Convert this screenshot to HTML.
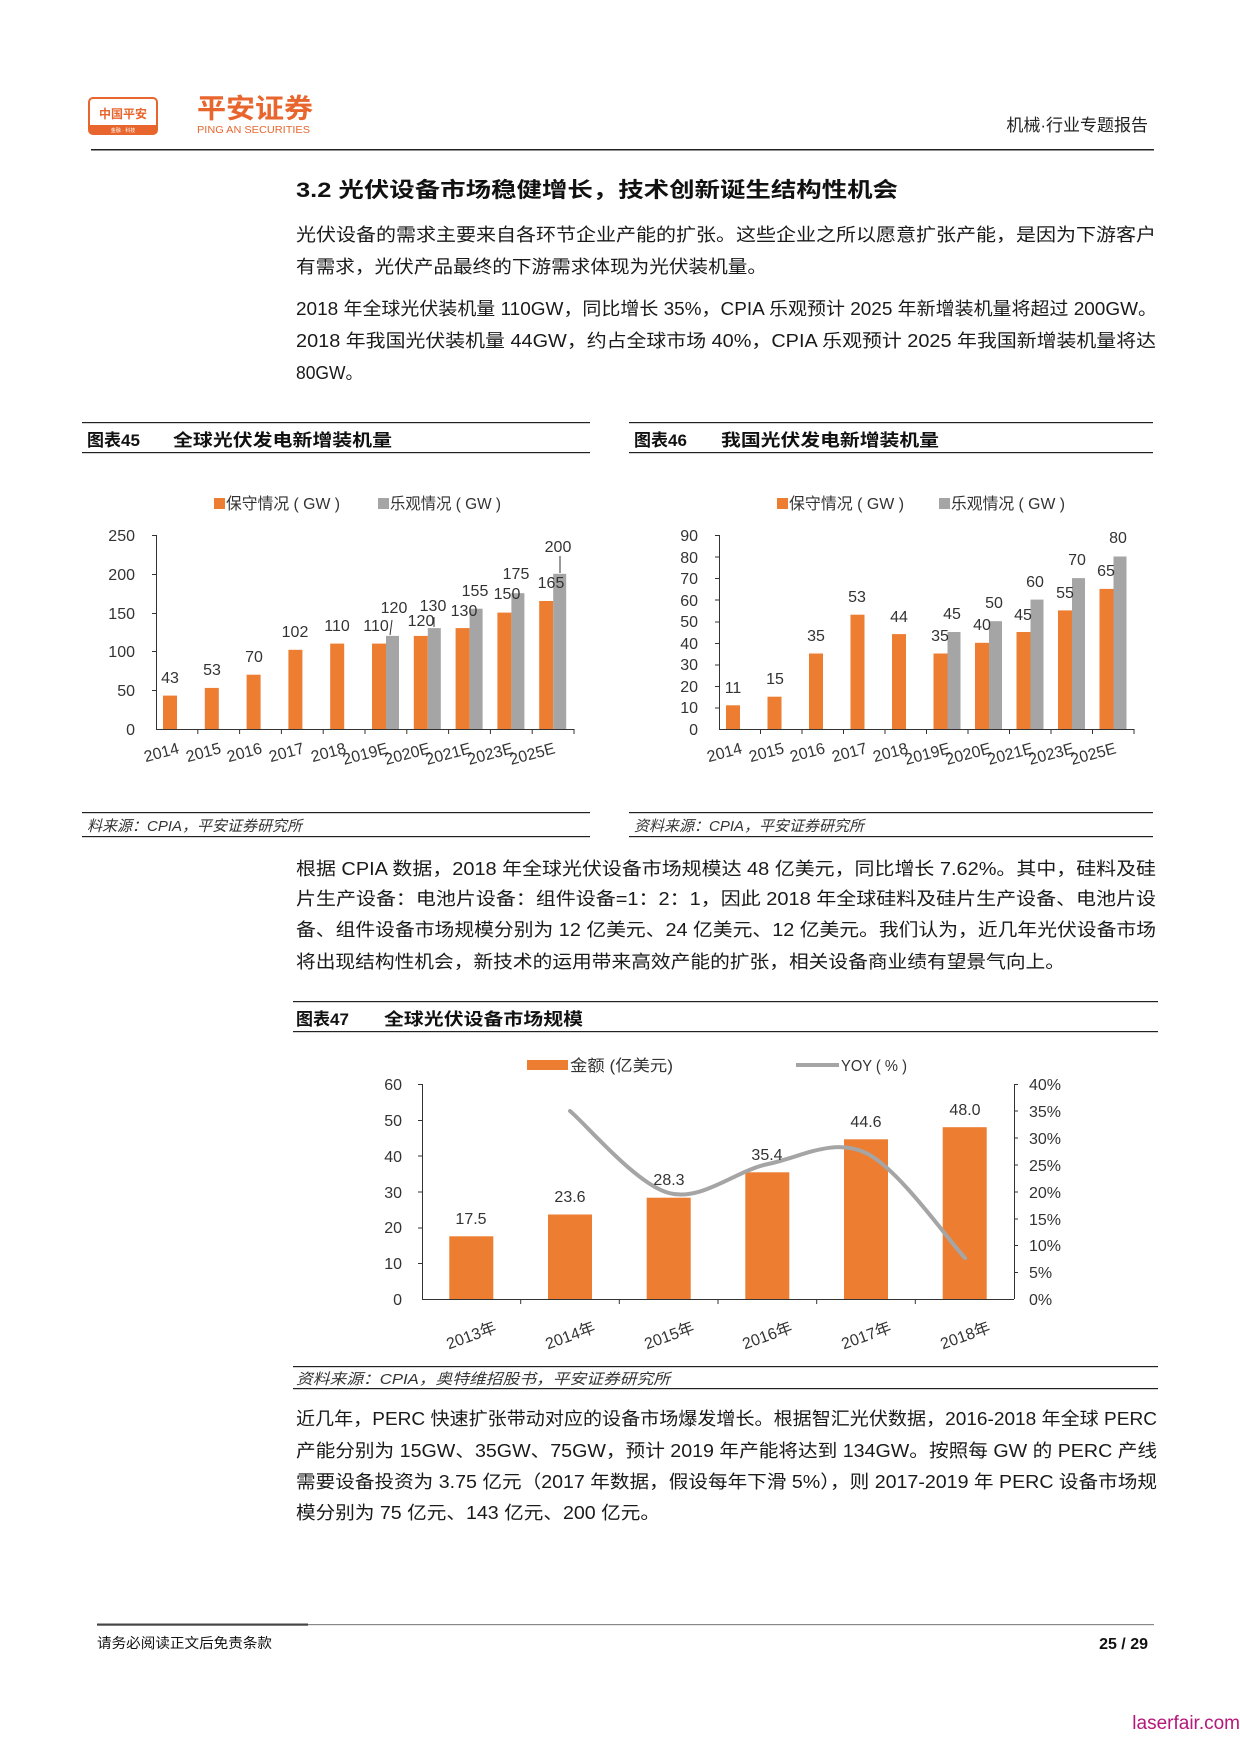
<!DOCTYPE html>
<html><head><meta charset="utf-8"><style>
html,body{margin:0;padding:0;background:#fff;}
svg{display:block;}
text{font-family:"Liberation Sans","Noto Sans CJK SC",sans-serif;}
.b{font-size:18px;fill:#1a1a1a;}
.t{font-size:16px;fill:#333;}
.ct{font-size:17px;font-weight:bold;fill:#111;}
.src{font-size:15px;font-style:italic;fill:#333;}
</style></head><body>
<svg width="1240" height="1754" viewBox="0 0 1240 1754" xmlns="http://www.w3.org/2000/svg">
<!-- header -->
<rect x="89" y="98" width="68" height="36" rx="4" fill="#fff" stroke="#e8662e" stroke-width="2"/>
<rect x="90" y="125" width="66" height="8" fill="#e8662e"/>
<text x="123" y="118" font-size="12" font-weight="bold" fill="#e8662e" text-anchor="middle">中国平安</text>
<text x="123" y="132" font-size="5" fill="#fff" text-anchor="middle">金融 · 科技</text>
<text x="197" y="118" font-size="27" font-weight="bold" fill="#e8662e" textLength="116" lengthAdjust="spacingAndGlyphs">平安证券</text>
<text x="197" y="133" font-size="10" fill="#e8662e" textLength="113" lengthAdjust="spacingAndGlyphs">PING AN SECURITIES</text>
<text x="1148" y="131" font-size="17" fill="#222" text-anchor="end">机械·行业专题报告</text>
<rect x="91" y="149" width="1063" height="1.5" fill="#222"/>

<text x="296" y="197" font-size="21" font-weight="bold" fill="#111" textLength="602" lengthAdjust="spacingAndGlyphs">3.2  光伏设备市场稳健增长，技术创新诞生结构性机会</text>
<text class="b" x="296" y="241" textLength="860" lengthAdjust="spacingAndGlyphs">光伏设备的需求主要来自各环节企业产能的扩张。这些企业之所以愿意扩张产能，是因为下游客户</text>
<text class="b" x="296" y="273" textLength="471" lengthAdjust="spacingAndGlyphs">有需求，光伏产品最终的下游需求体现为光伏装机量。</text>
<text class="b" x="296" y="315" textLength="861" lengthAdjust="spacingAndGlyphs">2018 年全球光伏装机量 110GW，同比增长 35%，CPIA 乐观预计 2025 年新增装机量将超过 200GW。</text>
<text class="b" x="296" y="347" textLength="860" lengthAdjust="spacingAndGlyphs">2018 年我国光伏装机量 44GW，约占全球市场 40%，CPIA 乐观预计 2025 年我国新增装机量将达</text>
<text class="b" x="296" y="379" textLength="67" lengthAdjust="spacingAndGlyphs">80GW。</text>

<!-- chart 45 -->
<rect x="82" y="422" width="508" height="1.2" fill="#222"/>
<rect x="82" y="452" width="508" height="1.2" fill="#222"/>
<text class="ct" x="87" y="446">图表45</text>
<text class="ct" x="173" y="446" textLength="219" lengthAdjust="spacingAndGlyphs">全球光伏发电新增装机量</text>
<rect x="214" y="498" width="11" height="11" fill="#ed7d31"/>
<text class="t" x="226" y="509" textLength="114" lengthAdjust="spacingAndGlyphs">保守情况 ( GW )</text>
<rect x="378" y="498" width="11" height="11" fill="#a5a5a5"/>
<text class="t" x="390" y="509" textLength="111" lengthAdjust="spacingAndGlyphs">乐观情况 ( GW )</text>
<g text-anchor="end">
<text x="135" y="541" class="t">250</text><text x="135" y="580" class="t">200</text><text x="135" y="619" class="t">150</text><text x="135" y="657" class="t">100</text><text x="135" y="696" class="t">50</text><text x="135" y="735" class="t">0</text>
</g>
<g stroke="#333" stroke-width="1">
<line x1="156.5" y1="535" x2="156.5" y2="729"/><line x1="156" y1="729.5" x2="574" y2="729.5"/>
<line x1="152" y1="535.5" x2="156" y2="535.5"/><line x1="152" y1="574.5" x2="156" y2="574.5"/><line x1="152" y1="613.5" x2="156" y2="613.5"/><line x1="152" y1="651.5" x2="156" y2="651.5"/><line x1="152" y1="690.5" x2="156" y2="690.5"/>
<line x1="197.8" y1="729" x2="197.8" y2="734"/><line x1="239.6" y1="729" x2="239.6" y2="734"/><line x1="281.4" y1="729" x2="281.4" y2="734"/><line x1="323.2" y1="729" x2="323.2" y2="734"/><line x1="365" y1="729" x2="365" y2="734"/><line x1="406.8" y1="729" x2="406.8" y2="734"/><line x1="448.6" y1="729" x2="448.6" y2="734"/><line x1="490.4" y1="729" x2="490.4" y2="734"/><line x1="532.2" y1="729" x2="532.2" y2="734"/><line x1="574" y1="729" x2="574" y2="734"/>
</g>
<g fill="#ed7d31">
<rect x="163" y="695.6" width="14" height="33.4"/><rect x="204.8" y="687.9" width="14" height="41.1"/><rect x="246.6" y="674.7" width="14" height="54.3"/><rect x="288.4" y="649.8" width="14" height="79.2"/><rect x="330.2" y="643.6" width="14" height="85.4"/><rect x="372" y="643.6" width="14" height="85.4"/><rect x="413.8" y="635.9" width="14" height="93.1"/><rect x="455.6" y="628.1" width="14" height="100.9"/><rect x="497.4" y="612.6" width="14" height="116.4"/><rect x="539.2" y="601" width="14" height="128"/>
</g>
<g fill="#a5a5a5">
<rect x="386" y="635.9" width="13" height="93.1"/><rect x="427.8" y="628.1" width="13" height="100.9"/><rect x="469.6" y="608.7" width="13" height="120.3"/><rect x="511.4" y="593.2" width="13" height="135.8"/><rect x="553.2" y="573.8" width="13" height="155.2"/>
</g>
<g stroke="#333" stroke-width="1"><line x1="392" y1="620" x2="390" y2="635"/><line x1="434" y1="617" x2="434" y2="627"/><line x1="560" y1="556" x2="560" y2="573"/></g>
<g text-anchor="middle">
<text class="t" x="170" y="683">43</text><text class="t" x="212" y="675">53</text><text class="t" x="254" y="662">70</text><text class="t" x="295" y="637">102</text><text class="t" x="337" y="631">110</text><text class="t" x="376" y="631">110</text><text class="t" x="394" y="613">120</text><text class="t" x="421" y="626">120</text><text class="t" x="433" y="611">130</text><text class="t" x="464" y="616">130</text><text class="t" x="475" y="596">155</text><text class="t" x="507" y="599">150</text><text class="t" x="516" y="579">175</text><text class="t" x="551" y="588">165</text><text class="t" x="558" y="552">200</text>
</g>
<g text-anchor="end">
<text class="t" x="180" y="753" transform="rotate(-15 180 753)">2014</text><text class="t" x="222" y="753" transform="rotate(-15 222 753)">2015</text><text class="t" x="263" y="753" transform="rotate(-15 263 753)">2016</text><text class="t" x="305" y="753" transform="rotate(-15 305 753)">2017</text><text class="t" x="347" y="753" transform="rotate(-15 347 753)">2018</text><text class="t" x="389" y="753" transform="rotate(-15 389 753)">2019E</text><text class="t" x="431" y="753" transform="rotate(-15 431 753)">2020E</text><text class="t" x="472" y="753" transform="rotate(-15 472 753)">2021E</text><text class="t" x="514" y="753" transform="rotate(-15 514 753)">2023E</text><text class="t" x="556" y="753" transform="rotate(-15 556 753)">2025E</text>
</g>
<rect x="82" y="812" width="508" height="1.2" fill="#222"/>
<rect x="82" y="836" width="508" height="1.2" fill="#222"/>
<text class="src" x="87" y="831">料来源：CPIA，平安证券研究所</text>

<!-- chart 46 -->
<rect x="629" y="422" width="524" height="1.2" fill="#222"/>
<rect x="629" y="452" width="524" height="1.2" fill="#222"/>
<text class="ct" x="634" y="446">图表46</text>
<text class="ct" x="721" y="446" textLength="218" lengthAdjust="spacingAndGlyphs">我国光伏发电新增装机量</text>
<rect x="777" y="498" width="11" height="11" fill="#ed7d31"/>
<text class="t" x="789" y="509" textLength="115" lengthAdjust="spacingAndGlyphs">保守情况 ( GW )</text>
<rect x="939" y="498" width="11" height="11" fill="#a5a5a5"/>
<text class="t" x="951" y="509" textLength="114" lengthAdjust="spacingAndGlyphs">乐观情况 ( GW )</text>
<g text-anchor="end">
<text class="t" x="698" y="541">90</text><text class="t" x="698" y="563">80</text><text class="t" x="698" y="584">70</text><text class="t" x="698" y="606">60</text><text class="t" x="698" y="627">50</text><text class="t" x="698" y="649">40</text><text class="t" x="698" y="670">30</text><text class="t" x="698" y="692">20</text><text class="t" x="698" y="713">10</text><text class="t" x="698" y="735">0</text>
</g>
<g stroke="#333" stroke-width="1">
<line x1="719.5" y1="535" x2="719.5" y2="729"/><line x1="719" y1="729.5" x2="1134" y2="729.5"/>
<line x1="715" y1="535.5" x2="719" y2="535.5"/><line x1="715" y1="557" x2="719" y2="557"/><line x1="715" y1="578.5" x2="719" y2="578.5"/><line x1="715" y1="600" x2="719" y2="600"/><line x1="715" y1="622" x2="719" y2="622"/><line x1="715" y1="643.5" x2="719" y2="643.5"/><line x1="715" y1="665" x2="719" y2="665"/><line x1="715" y1="686.5" x2="719" y2="686.5"/><line x1="715" y1="708" x2="719" y2="708"/>
<line x1="760.5" y1="729" x2="760.5" y2="734"/><line x1="802" y1="729" x2="802" y2="734"/><line x1="843.5" y1="729" x2="843.5" y2="734"/><line x1="885" y1="729" x2="885" y2="734"/><line x1="926.5" y1="729" x2="926.5" y2="734"/><line x1="968" y1="729" x2="968" y2="734"/><line x1="1009.5" y1="729" x2="1009.5" y2="734"/><line x1="1051" y1="729" x2="1051" y2="734"/><line x1="1092.5" y1="729" x2="1092.5" y2="734"/><line x1="1134" y1="729" x2="1134" y2="734"/>
</g>
<g fill="#ed7d31">
<rect x="726" y="705.3" width="14" height="23.7"/><rect x="767.5" y="696.7" width="14" height="32.3"/><rect x="809" y="653.5" width="14" height="75.5"/><rect x="850.5" y="614.7" width="14" height="114.3"/><rect x="892" y="634.1" width="14" height="94.9"/><rect x="933.5" y="653.5" width="14" height="75.5"/><rect x="975" y="642.8" width="14" height="86.2"/><rect x="1016.5" y="632" width="14" height="97"/><rect x="1058" y="610.4" width="14" height="118.6"/><rect x="1099.5" y="588.9" width="14" height="140.1"/>
</g>
<g fill="#a5a5a5">
<rect x="947.5" y="632" width="13" height="97"/><rect x="989" y="621.2" width="13" height="107.8"/><rect x="1030.5" y="599.6" width="13" height="129.4"/><rect x="1072" y="578.1" width="13" height="150.9"/><rect x="1113.5" y="556.5" width="13" height="172.5"/>
</g>
<g text-anchor="middle">
<text class="t" x="733" y="693">11</text><text class="t" x="775" y="684">15</text><text class="t" x="816" y="641">35</text><text class="t" x="857" y="602">53</text><text class="t" x="899" y="622">44</text><text class="t" x="940" y="641">35</text><text class="t" x="952" y="619">45</text><text class="t" x="982" y="630">40</text><text class="t" x="994" y="608">50</text><text class="t" x="1023" y="620">45</text><text class="t" x="1035" y="587">60</text><text class="t" x="1065" y="598">55</text><text class="t" x="1077" y="565">70</text><text class="t" x="1106" y="576">65</text><text class="t" x="1118" y="543">80</text>
</g>
<g text-anchor="end">
<text class="t" x="743" y="753" transform="rotate(-15 743 753)">2014</text><text class="t" x="785" y="753" transform="rotate(-15 785 753)">2015</text><text class="t" x="826" y="753" transform="rotate(-15 826 753)">2016</text><text class="t" x="868" y="753" transform="rotate(-15 868 753)">2017</text><text class="t" x="909" y="753" transform="rotate(-15 909 753)">2018</text><text class="t" x="951" y="753" transform="rotate(-15 951 753)">2019E</text><text class="t" x="992" y="753" transform="rotate(-15 992 753)">2020E</text><text class="t" x="1034" y="753" transform="rotate(-15 1034 753)">2021E</text><text class="t" x="1075" y="753" transform="rotate(-15 1075 753)">2023E</text><text class="t" x="1117" y="753" transform="rotate(-15 1117 753)">2025E</text>
</g>
<rect x="629" y="812" width="524" height="1.2" fill="#222"/>
<rect x="629" y="836" width="524" height="1.2" fill="#222"/>
<text class="src" x="634" y="831">资料来源：CPIA，平安证券研究所</text>

<!-- para 3 -->
<text class="b" x="296" y="875" textLength="860" lengthAdjust="spacingAndGlyphs">根据 CPIA 数据，2018 年全球光伏设备市场规模达 48 亿美元，同比增长 7.62%。其中，硅料及硅</text>
<text class="b" x="296" y="905" textLength="860" lengthAdjust="spacingAndGlyphs">片生产设备：电池片设备：组件设备=1：2：1，因此 2018 年全球硅料及硅片生产设备、电池片设</text>
<text class="b" x="296" y="936" textLength="860" lengthAdjust="spacingAndGlyphs">备、组件设备市场规模分别为 12 亿美元、24 亿美元、12 亿美元。我们认为，近几年光伏设备市场</text>
<text class="b" x="296" y="968" textLength="769" lengthAdjust="spacingAndGlyphs">将出现结构性机会，新技术的运用带来高效产能的扩张，相关设备商业绩有望景气向上。</text>

<!-- chart 47 -->
<rect x="293" y="1001" width="865" height="1.2" fill="#222"/>
<rect x="293" y="1031" width="865" height="1.2" fill="#222"/>
<text class="ct" x="296" y="1025">图表47</text>
<text class="ct" x="384" y="1025" textLength="199" lengthAdjust="spacingAndGlyphs">全球光伏设备市场规模</text>
<rect x="527" y="1060" width="41" height="10" fill="#ed7d31"/>
<text class="t" x="570" y="1071" textLength="103" lengthAdjust="spacingAndGlyphs">金额 (亿美元)</text>
<line x1="796" y1="1065" x2="839" y2="1065" stroke="#a5a5a5" stroke-width="4"/>
<text class="t" x="841" y="1071" textLength="66" lengthAdjust="spacingAndGlyphs">YOY ( % )</text>
<g text-anchor="end">
<text class="t" x="402" y="1090">60</text><text class="t" x="402" y="1126">50</text><text class="t" x="402" y="1162">40</text><text class="t" x="402" y="1198">30</text><text class="t" x="402" y="1233">20</text><text class="t" x="402" y="1269">10</text><text class="t" x="402" y="1305">0</text>
</g>
<g>
<text class="t" x="1029" y="1090">40%</text><text class="t" x="1029" y="1117">35%</text><text class="t" x="1029" y="1144">30%</text><text class="t" x="1029" y="1171">25%</text><text class="t" x="1029" y="1198">20%</text><text class="t" x="1029" y="1225">15%</text><text class="t" x="1029" y="1251">10%</text><text class="t" x="1029" y="1278">5%</text><text class="t" x="1029" y="1305">0%</text>
</g>
<g stroke="#333" stroke-width="1">
<line x1="422.5" y1="1084" x2="422.5" y2="1299"/><line x1="1014.5" y1="1084" x2="1014.5" y2="1299"/><line x1="422" y1="1299.5" x2="1014" y2="1299.5"/>
<line x1="418" y1="1084.5" x2="422" y2="1084.5"/><line x1="418" y1="1120.5" x2="422" y2="1120.5"/><line x1="418" y1="1156" x2="422" y2="1156"/><line x1="418" y1="1192" x2="422" y2="1192"/><line x1="418" y1="1228" x2="422" y2="1228"/><line x1="418" y1="1263.5" x2="422" y2="1263.5"/>
<line x1="1014" y1="1084.5" x2="1018" y2="1084.5"/><line x1="1014" y1="1111" x2="1018" y2="1111"/><line x1="1014" y1="1138" x2="1018" y2="1138"/><line x1="1014" y1="1165" x2="1018" y2="1165"/><line x1="1014" y1="1192" x2="1018" y2="1192"/><line x1="1014" y1="1219" x2="1018" y2="1219"/><line x1="1014" y1="1245.5" x2="1018" y2="1245.5"/><line x1="1014" y1="1272.5" x2="1018" y2="1272.5"/>
<line x1="520.7" y1="1299" x2="520.7" y2="1304"/><line x1="619.3" y1="1299" x2="619.3" y2="1304"/><line x1="718" y1="1299" x2="718" y2="1304"/><line x1="816.7" y1="1299" x2="816.7" y2="1304"/><line x1="915.3" y1="1299" x2="915.3" y2="1304"/>
</g>
<g fill="#ed7d31">
<rect x="449.3" y="1236.3" width="44" height="62.7"/><rect x="548" y="1214.5" width="44" height="84.5"/><rect x="646.7" y="1197.7" width="44" height="101.3"/><rect x="745.3" y="1172.3" width="44" height="126.7"/><rect x="844" y="1139.3" width="44" height="159.7"/><rect x="942.7" y="1127.2" width="44" height="171.8"/>
</g>
<path d="M570,1111 C586.5,1124.7 636,1184.2 669,1193 C702,1201.8 735.2,1170.7 768,1164 C800.8,1157.3 833.2,1137.3 866,1153 C898.8,1168.7 948.5,1240.5 965,1258" fill="none" stroke="#a5a5a5" stroke-width="4" stroke-linecap="round"/>
<g text-anchor="middle">
<text class="t" x="471" y="1224">17.5</text><text class="t" x="570" y="1202">23.6</text><text class="t" x="669" y="1185">28.3</text><text class="t" x="767" y="1160">35.4</text><text class="t" x="866" y="1127">44.6</text><text class="t" x="965" y="1115">48.0</text>
</g>
<g text-anchor="middle">
<text class="t" x="471" y="1341" transform="rotate(-20 471 1335)">2013年</text><text class="t" x="570" y="1341" transform="rotate(-20 570 1335)">2014年</text><text class="t" x="669" y="1341" transform="rotate(-20 669 1335)">2015年</text><text class="t" x="767" y="1341" transform="rotate(-20 767 1335)">2016年</text><text class="t" x="866" y="1341" transform="rotate(-20 866 1335)">2017年</text><text class="t" x="965" y="1341" transform="rotate(-20 965 1335)">2018年</text>
</g>
<rect x="293" y="1366" width="865" height="1.2" fill="#222"/>
<rect x="293" y="1388" width="865" height="1.2" fill="#222"/>
<text class="src" x="296" y="1384" textLength="374" lengthAdjust="spacingAndGlyphs">资料来源：CPIA，奥特维招股书，平安证券研究所</text>

<!-- para 4 -->
<text class="b" x="296" y="1425" textLength="861" lengthAdjust="spacingAndGlyphs">近几年，PERC 快速扩张带动对应的设备市场爆发增长。根据智汇光伏数据，2016-2018 年全球 PERC</text>
<text class="b" x="296" y="1457" textLength="861" lengthAdjust="spacingAndGlyphs">产能分别为 15GW、35GW、75GW，预计 2019 年产能将达到 134GW。按照每 GW 的 PERC 产线</text>
<text class="b" x="296" y="1488" textLength="861" lengthAdjust="spacingAndGlyphs">需要设备投资为 3.75 亿元（2017 年数据，假设每年下滑 5%），则 2017-2019 年 PERC 设备市场规</text>
<text class="b" x="296" y="1519" textLength="364" lengthAdjust="spacingAndGlyphs">模分别为 75 亿元、143 亿元、200 亿元。</text>

<!-- footer -->
<rect x="97" y="1624" width="1057" height="1.2" fill="#888"/>
<rect x="97" y="1623.5" width="211" height="2.2" fill="#444"/>
<text x="97" y="1648" font-size="14" fill="#111" textLength="175" lengthAdjust="spacingAndGlyphs">请务必阅读正文后免责条款</text>
<text x="1148" y="1649" font-size="16" font-weight="bold" fill="#111" text-anchor="end">25 / 29</text>
<text x="1240" y="1729" font-family="Liberation Mono, monospace" font-size="19" fill="#b5177a" text-anchor="end">laserfair.com</text>
</svg>
</body></html>
